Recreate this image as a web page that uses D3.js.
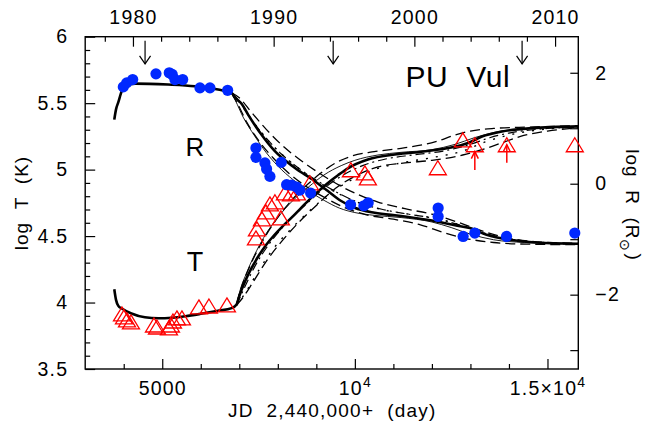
<!DOCTYPE html>
<html><head><meta charset="utf-8">
<script src="https://cdn.jsdelivr.net/npm/d3@7"></script>
<style>
body{margin:0;background:#fff}
svg{display:block}
text{font-family:"Liberation Sans",Arial,sans-serif;fill:#000}
</style>
</head><body>
<svg id="chart" width="645" height="441"></svg>
<script>
// ---------------- data ----------------
// blue circles: log R (right axis) vs JD-2440000
const rObsDay = [3989,4077,4232,4837,5182,5260,5330,5530,5979,6238,6697,
  7432,7432,7665,7709,7795,8089,8228,8358,8488,8574,8851,9889,10234,10346,
  12162,12162,12811,13114,13937,15709];
const rObsVal = [1.745,1.818,1.877,1.98,2.0,1.97,1.877,1.877,1.727,1.727,1.684,
  0.644,0.475,0.374,0.265,0.132,0.384,-0.018,-0.027,-0.06,-0.114,-0.168,-0.379,-0.397,-0.343,
  -0.439,-0.59,-0.951,-0.89,-0.951,-0.89];
// red triangles: log T (left axis)
const tObsDay = [3955,4007,4085,4188,4785,4863,5174,5226,5278,5381,5511,5952,6212,6679,
  7432,7458,7588,7691,7795,7925,8080,8184,8340,8496,8833,9897,10260,10338,
  12154,12803,13114,13944,15709];
const tObsVal = [3.914,3.892,3.869,3.854,3.831,3.816,3.809,3.831,3.861,3.884,3.884,3.967,3.974,3.982,
  4.486,4.554,4.630,4.682,4.742,4.758,4.637,4.825,4.818,4.825,4.901,4.999,4.976,4.938,
  5.014,5.224,5.187,5.187,5.187];
// lower-limit arrows on T
const tArrowDay = [13114,13944];
const tArrowFrom = [4.998,5.051];
const tArrowTo = [5.136,5.187];
// eclipse arrows (top)
const eclipseDay = [4554,9437,14341];

// model curves
const tMain = [[3755,4.10],[3800,4.02],[3860,3.975],[3950,3.955],[4200,3.918],[4550,3.889],[4900,3.882],[5250,3.886],[5600,3.897],[6000,3.915],[6450,3.938],[6800,3.958],[6930,3.985],[6990,4.04],[7150,4.16],[7300,4.25],[7491,4.346],[7700,4.435],[7916,4.51],[8140,4.578],[8436,4.662],[8700,4.74],[8955,4.812],[9300,4.90],[9570,4.96],[9819,5.01],[10338,5.076],[11030,5.114],[11566,5.129],[12420,5.162],[12940,5.20],[13300,5.249],[13816,5.287],[14594,5.312],[15800,5.325]];
const tThin = [[6930,3.985],[7000,4.07],[7200,4.23],[7450,4.39],[7700,4.52],[8000,4.64],[8400,4.77],[8800,4.87],[9200,4.96],[9645,5.03],[10000,5.07],[10600,5.11],[11200,5.13],[12000,5.15],[12600,5.19],[13100,5.24],[13700,5.285],[14500,5.31],[15800,5.325]];
const tDashUp = [[6930,3.99],[7050,4.11],[7300,4.29],[7600,4.46],[7900,4.60],[8300,4.75],[8700,4.87],[9100,4.97],[9500,5.05],[9900,5.10],[10500,5.135],[11200,5.16],[12100,5.21],[12600,5.26],[13000,5.29],[13600,5.31],[14500,5.32],[15800,5.33]];
const tDashLo = [[6930,3.98],[7100,4.04],[7350,4.15],[7700,4.31],[8100,4.46],[8500,4.59],[9000,4.73],[9500,4.86],[10000,4.95],[10600,5.02],[11300,5.05],[12000,5.07],[12800,5.11],[13300,5.15],[13800,5.20],[14300,5.25],[15000,5.29],[15800,5.315]];
const tDashDot = [[6930,3.98],[7100,4.09],[7400,4.27],[7800,4.45],[8200,4.59],[8700,4.73],[9200,4.86],[9700,4.96],[10200,5.03],[10800,5.08],[11500,5.11],[12300,5.14],[13000,5.19],[13500,5.24],[14000,5.275],[14800,5.305],[15800,5.32]];
const tDot = [[6930,3.98],[7150,4.07],[7500,4.24],[7900,4.41],[8400,4.57],[8900,4.71],[9400,4.83],[9900,4.92],[10500,5.0],[11200,5.05],[12000,5.09],[12800,5.14],[13400,5.21],[14000,5.26],[14800,5.30],[15800,5.32]];

const rMain = [[3755,1.155],[3800,1.34],[3860,1.47],[3947,1.666],[4050,1.76],[4150,1.795],[4300,1.805],[5150,1.787],[5850,1.756],[6450,1.697],[6800,1.637],[6880,1.56],[7060,1.44],[7224,1.251],[7569,0.890],[7917,0.590],[8436,0.289],[8955,0.049],[9300,-0.132],[9645,-0.312],[9993,-0.433],[10512,-0.523],[11202,-0.583],[12120,-0.68],[12600,-0.75],[12984,-0.80],[13418,-0.92],[14022,-1.01],[14715,-1.06],[15800,-1.083]];
const rThin = [[6800,1.637],[6900,1.50],[7100,1.20],[7400,0.86],[7700,0.56],[8000,0.32],[8400,0.07],[8800,-0.13],[9200,-0.30],[9600,-0.44],[10000,-0.52],[10500,-0.57],[11200,-0.61],[12000,-0.69],[12500,-0.79],[13000,-0.91],[13600,-1.01],[14400,-1.06],[15800,-1.09]];
const rDashUp = [[6800,1.64],[7000,1.55],[7300,1.30],[7700,0.98],[8100,0.70],[8600,0.42],[9100,0.18],[9600,-0.03],[10100,-0.20],[10600,-0.33],[11300,-0.45],[12000,-0.55],[12700,-0.70],[13300,-0.85],[13900,-0.97],[14600,-1.04],[15800,-1.075]];
const rDashLo = [[6800,1.63],[6950,1.45],[7200,1.10],[7500,0.78],[7900,0.45],[8300,0.18],[8800,-0.08],[9300,-0.28],[9800,-0.45],[10300,-0.56],[11000,-0.64],[11700,-0.74],[12300,-0.88],[12900,-0.99],[13600,-1.06],[14500,-1.09],[15800,-1.10]];
const rDashDot = [[6800,1.64],[7000,1.49],[7300,1.17],[7700,0.82],[8100,0.53],[8600,0.25],[9100,0.02],[9600,-0.18],[10100,-0.34],[10700,-0.46],[11400,-0.55],[12100,-0.63],[12800,-0.76],[13400,-0.90],[14000,-1.00],[14800,-1.06],[15800,-1.09]];
const rDot = [[6800,1.64],[7050,1.42],[7400,1.08],[7800,0.74],[8250,0.44],[8750,0.17],[9250,-0.05],[9750,-0.24],[10250,-0.38],[10800,-0.48],[11500,-0.56],[12200,-0.64],[12900,-0.78],[13500,-0.92],[14100,-1.01],[14900,-1.06],[15800,-1.085]];

// ticks
const xMajor = [5000,10000,15000];
const xMajorLabel = [["5000",""],["10","4"],["1.5\u00d710","4"]];
const xMinor = [4000,6000,7000,8000,9000,11000,12000,13000,14000];
const yearMajor = [1980,1990,2000,2010];
const yearMinor = [1978,1982,1984,1986,1988,1992,1994,1996,1998,2002,2004,2006,2008];
const tMajorTicks = [3.5,4,4.5,5,5.5,6];
const tMinorTicks = [3.6,3.7,3.8,3.9,4.1,4.2,4.3,4.4,4.6,4.7,4.8,4.9,5.1,5.2,5.3,5.4,5.6,5.7,5.8,5.9];
const rMajorTicks = [-2,0,2];
const rMinorTicks = [-3,-1,1];

// ---------------- layout ----------------
const L = 85.2, R = 578.3, T = 36.7, B = 369;
const svg = d3.select("#chart");
const x = d3.scaleLinear().domain([3000,15800]).range([L,R]);
const yT = d3.scaleLinear().domain([3.5,6]).range([B,T]);
const yR = d3.scaleLinear().domain([-3.34,2.65]).range([B,T]);
// calendar year at JD 2440000+day (1980.0 = JD 2444239.5)
const dayToYear = d => 1980 + (d - 4239.5)/365.25;
const xYear = d3.scaleLinear().domain([dayToYear(3000), dayToYear(15800)]).range([L,R]);

const fs = 19.5, ls = 1.2;
function styleAxis(g){ g.select(".domain").remove(); g.selectAll(".tick line").attr("stroke","#000").attr("stroke-width",1.2); g.selectAll("text").attr("font-family","Liberation Sans, Arial, sans-serif").attr("font-size",fs).attr("letter-spacing",ls).attr("fill","#000"); }

// bottom
svg.append("g").attr("transform",`translate(0,${B})`)
  .call(d3.axisBottom(x).tickValues(xMinor).tickSize(-5).tickFormat(""))
  .call(styleAxis);
const gb = svg.append("g").attr("transform",`translate(0,${B})`)
  .call(d3.axisBottom(x).tickValues(xMajor).tickSize(-10).tickPadding(12.5).tickFormat(""))
  .call(styleAxis);
gb.selectAll(".tick text").each(function(d,i){
  const t = d3.select(this);
  t.text(null);
  t.append("tspan").text(xMajorLabel[i][0]);
  if (xMajorLabel[i][1]) t.append("tspan").attr("font-size",14).attr("dy","-0.6em").text(xMajorLabel[i][1]);
});
// top (years)
svg.append("g").attr("transform",`translate(0,${T})`)
  .call(d3.axisTop(xYear).tickValues(yearMinor).tickSize(-5).tickFormat(""))
  .call(styleAxis);
svg.append("g").attr("transform",`translate(0,${T})`)
  .call(d3.axisTop(xYear).tickValues(yearMajor).tickSize(-10).tickPadding(12.5).tickFormat(d3.format("d")))
  .call(styleAxis);
// left
svg.append("g").attr("transform",`translate(${L},0)`)
  .call(d3.axisLeft(yT).tickValues(tMinorTicks).tickSize(-5).tickFormat(""))
  .call(styleAxis);
svg.append("g").attr("transform",`translate(${L},0)`)
  .call(d3.axisLeft(yT).tickValues(tMajorTicks).tickSize(-10).tickPadding(17).tickFormat(d=>String(d)))
  .call(styleAxis);
// right
svg.append("g").attr("transform",`translate(${R},0)`)
  .call(d3.axisRight(yR).tickValues(rMinorTicks).tickSize(-8).tickFormat(""))
  .call(styleAxis);
svg.append("g").attr("transform",`translate(${R},0)`)
  .call(d3.axisRight(yR).tickValues(rMajorTicks).tickSize(-8).tickPadding(17).tickFormat(d=> d<0 ? "\u2212"+(-d) : String(d)))
  .call(styleAxis);

// frame
svg.append("rect").attr("x",L).attr("y",T).attr("width",R-L).attr("height",B-T)
  .attr("fill","none").attr("stroke","#000").attr("stroke-width",1.4);

// clip
svg.append("clipPath").attr("id","clip").append("rect").attr("x",L).attr("y",T).attr("width",R-L).attr("height",B-T);
const plot = svg.append("g").attr("clip-path","url(#clip)");

// curves
const lineT = d3.line().x(d=>x(d[0])).y(d=>yT(d[1])).curve(d3.curveMonotoneX);
const lineR = d3.line().x(d=>x(d[0])).y(d=>yR(d[1])).curve(d3.curveMonotoneX);
const styles = {
  thin:{w:0.9,dash:null},
  dashUp:{w:1.3,dash:"10,5"},
  dashLo:{w:1.3,dash:"10,5"},
  dashDot:{w:1.2,dash:"9,4,2,4"},
  dot:{w:1.4,dash:"2,8"},
  main:{w:2.6,dash:null}
};
const curveSets = [
  [tThin,"thin",lineT],[tDashUp,"dashUp",lineT],[tDashLo,"dashLo",lineT],[tDashDot,"dashDot",lineT],[tDot,"dot",lineT],
  [rThin,"thin",lineR],[rDashUp,"dashUp",lineR],[rDashLo,"dashLo",lineR],[rDashDot,"dashDot",lineR],[rDot,"dot",lineR],
  [tMain,"main",lineT],[rMain,"main",lineR]
];
curveSets.forEach(([data,st,gen])=>{
  plot.append("path").attr("d",gen(data)).attr("fill","none").attr("stroke","#000")
    .attr("stroke-width",styles[st].w).attr("stroke-dasharray",styles[st].dash)
    .attr("stroke-linecap","butt").attr("stroke-linejoin","round");
});

// triangles (open red)
const triPath = "M0,-7L8.5,7L-8.5,7Z";
svg.append("g").selectAll("path").data(tObsDay.map((d,i)=>[d,tObsVal[i]])).join("path")
  .attr("d",triPath).attr("transform",d=>`translate(${x(d[0])},${yT(d[1])})`)
  .attr("fill","none").attr("stroke","#ff0000").attr("stroke-width",1.3);

// red arrows
tArrowDay.forEach((d,i)=>{
  const xx = x(d), y0 = yT(tArrowFrom[i]), y1 = yT(tArrowTo[i]);
  svg.append("line").attr("x1",xx).attr("x2",xx).attr("y1",y0).attr("y2",y1).attr("stroke","#ff0000").attr("stroke-width",1.5);
  svg.append("path").attr("d",`M${xx-3.5},${y1+7}L${xx},${y1}L${xx+3.5},${y1+7}`).attr("fill","none").attr("stroke","#ff0000").attr("stroke-width",1.5);
});

// blue circles
svg.append("g").selectAll("circle").data(rObsDay.map((d,i)=>[d,rObsVal[i]])).join("circle")
  .attr("cx",d=>x(d[0])).attr("cy",d=>yR(d[1])).attr("r",5.6).attr("fill","#0028ff");

// eclipse arrows (black, downward)
eclipseDay.forEach(d=>{
  const xx = x(d), y0 = yT(5.97), y1 = yT(5.795);
  svg.append("line").attr("x1",xx).attr("x2",xx).attr("y1",y0).attr("y2",y1).attr("stroke","#000").attr("stroke-width",1.2);
  svg.append("path").attr("d",`M${xx-5.5},${y1-8}L${xx},${y1}L${xx+5.5},${y1-8}`).attr("fill","none").attr("stroke","#000").attr("stroke-width",1.2);
});

// annotations
svg.append("text").attr("x",x(12674)).attr("y",yT(5.62)).attr("text-anchor","middle").attr("font-size",30).attr("letter-spacing",0.6)
  .text("PU\u00a0\u00a0Vul");
svg.append("text").attr("x",x(5849)).attr("y",yT(5.1)).attr("text-anchor","middle").attr("font-size",26).text("R");
svg.append("text").attr("x",x(5849)).attr("y",yT(4.235)).attr("text-anchor","middle").attr("font-size",27).text("T");

// axis titles
svg.append("text").attr("text-anchor","middle").attr("font-size",19).attr("letter-spacing",1.2)
  .attr("transform",`translate(${L+247},417)`).text("JD\u00a0\u00a02,440,000+\u00a0\u00a0(day)");
svg.append("text").attr("text-anchor","middle").attr("font-size",19).attr("letter-spacing",1)
  .attr("transform","translate(28,203) rotate(-90)").text("log\u00a0\u00a0T\u00a0\u00a0(K)");
const rl = svg.append("text").attr("text-anchor","middle").attr("font-size",19).attr("letter-spacing",1)
  .attr("transform","translate(626,205) rotate(90)");
rl.append("tspan").text("log\u00a0\u00a0R\u00a0\u00a0(R");
rl.append("tspan").attr("font-size",14).attr("dy","0.45em").text("\u2299");
rl.append("tspan").attr("dy","-0.45em").attr("dx","1").text(")");
</script>
</body></html>
